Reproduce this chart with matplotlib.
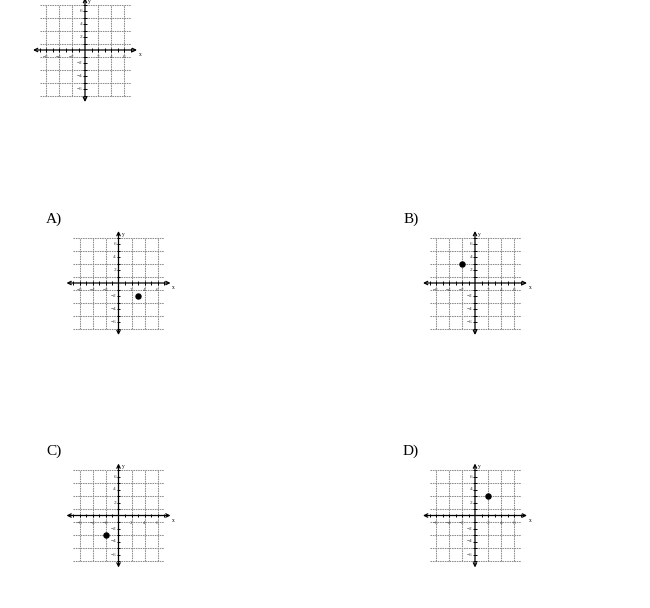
import matplotlib.pyplot as plt

# answer choices: plotted point for each option
choice_labels = ['A)', 'B)', 'C)', 'D)']
point_x = [3, -2, -2, 2]
point_y = [-2, 3, -3, 3]

# grid / axis layout of the small coordinate planes
grid_h = [-7, -5, -3, -1, 1, 3, 5, 7]
grid_v = [-6, -4, -2, 2, 4, 6]
grid_extent = 7
axis_extent = 8
minor_ticks = [-7, -6, -5, -4, -3, -2, -1, 1, 2, 3, 4, 5, 6, 7]
tick_labels = [-6, -4, -2, 2, 4, 6]

W, H = 650, 608
SCALE = 6.5  # pixels per unit
SPAN = 10

plt.rcParams['font.family'] = ['Liberation Serif', 'DejaVu Serif']

fig = plt.figure(figsize=(W / 100, H / 100), dpi=100)


def make_plane(cx, cy):
	half = SPAN * SCALE
	ax = fig.add_axes([(cx - half) / W, (H - cy - half) / H, 2 * half / W, 2 * half / H])
	ax.set_xlim(-SPAN, SPAN)
	ax.set_ylim(-SPAN, SPAN)
	ax.axis('off')
	ax.hlines(grid_h, -grid_extent, grid_extent, colors='#8c8c8c', linestyles=(0, (1.5, 0.8)), linewidth=0.75)
	ax.vlines(grid_v, -grid_extent, grid_extent, colors='#8c8c8c', linestyles=(0, (1.5, 0.8)), linewidth=0.75)
	arrow = dict(arrowstyle='<->', lw=0.9, color='black', mutation_scale=6, shrinkA=0, shrinkB=0)
	ax.annotate('', xy=(axis_extent, 0), xytext=(-axis_extent, 0), arrowprops=arrow)
	ax.annotate('', xy=(0, axis_extent), xytext=(0, -axis_extent), arrowprops=arrow)
	ax.vlines(minor_ticks, -0.3, 0.3, colors='black', linewidth=0.7)
	ax.hlines(minor_ticks, -0.3, 0.3, colors='black', linewidth=0.7)
	for t in tick_labels:
		txt = '\u2212%d' % abs(t) if t < 0 else str(t)
		ax.text(t, -1.1, txt, fontsize=3.8, color='#333333', ha='center', va='center')
		ax.text(-0.4, t, txt, fontsize=3.8, color='#333333', ha='right', va='center')
	ax.text(axis_extent + 0.3, -0.7, 'x', fontsize=4, ha='left', va='center')
	ax.text(0.5, axis_extent - 0.5, 'y', fontsize=4, ha='left', va='center')
	return ax


# question graph (empty, cut off at top)
make_plane(85, 50)

centers = [(118.5, 283), (475, 283), (118.5, 515.5), (475, 515.5)]
label_pos = [(46, 219), (404, 219), (46, 451), (403, 451)]

for i in range(len(choice_labels)):
	ax = make_plane(*centers[i])
	ax.plot(point_x[i], point_y[i], 'o', color='black', markersize=3.6)
	fig.text(label_pos[i][0] / W, 1 - label_pos[i][1] / H, choice_labels[i],
	         fontsize=11, ha='left', va='center')

fig.savefig('out.png', dpi=100)
plt.close(fig)
